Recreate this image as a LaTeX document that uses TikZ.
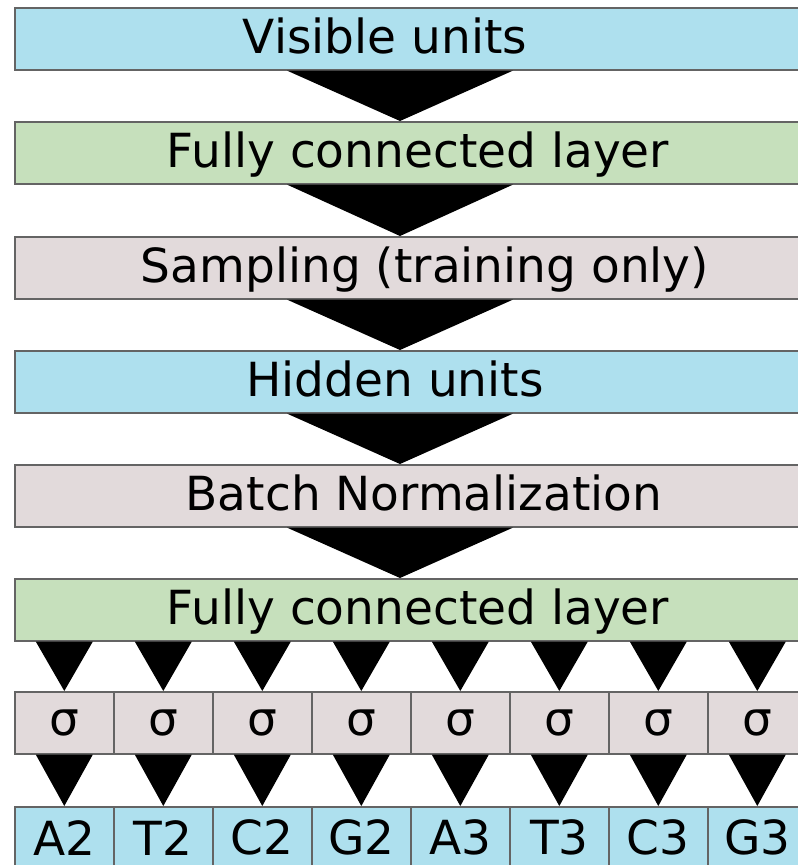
\documentclass[tikz,border=0pt]{standalone}
\usepackage{fontspec}
\setmainfont{DejaVu Sans}
\usetikzlibrary{calc}
\definecolor{unitblue}{RGB}{174, 224, 238}
\definecolor{layergreen}{RGB}{198, 224, 188}
\definecolor{opgray}{RGB}{226, 218, 219}
\definecolor{edgegray}{RGB}{100, 100, 100}

\begin{document}
\begin{tikzpicture}[x=1pt, y=-1pt,
  layerbox/.style={draw=edgegray, line width=1.6pt, minimum width=792pt, minimum height=62pt, inner sep=0pt, anchor=north west},
  cellbox/.style={draw=edgegray, line width=1.6pt, minimum width=99pt, minimum height=62pt, inner sep=0pt, anchor=north west, font=\fontsize{47}{56}\selectfont},
  boxtext/.style={anchor=base, inner sep=0pt, font=\fontsize{47}{56}\selectfont}]
  \clip (0,0) rectangle (798,865);
  \coordinate (mid) at (400,0);

  % Stacked layers
  \node[layerbox, fill=unitblue] (vis) at (14,7) {};
  \node[boxtext] (vistext) at (385,53) {Visible units};
  \node[layerbox, fill=layergreen] (fca) at (14,121) {};
  \node[boxtext] (fcatext) at (418,167) {Fully connected layer};
  \node[layerbox, fill=opgray] (samp) at (14,236) {};
  \node[boxtext] (samptext) at (425,282) {Sampling (training only)};
  \node[layerbox, fill=unitblue] (hid) at (14,350) {};
  \node[boxtext] (hidtext) at (395,396) {Hidden units};
  \node[layerbox, fill=opgray] (bn) at (14,464) {};
  \node[boxtext] (bntext) at (424,510) {Batch Normalization};
  \node[layerbox, fill=layergreen] (fcb) at (14,578) {};
  \node[boxtext] (fcbtext) at (418,624) {Fully connected layer};

  % Big arrows between layers
  \foreach \a/\b in {vis/fca, fca/samp, samp/hid, hid/bn, bn/fcb}
    \fill[black] ($(\a.south -| mid)+(-113,0)$) -- ($(\a.south -| mid)+(113,0)$) -- (\b.north -| mid) -- cycle;

  % Sigmoid cells and outputs
  \foreach \lab [count=\i from 0] in {A2, T2, C2, G2, A3, T3, C3, G3} {
    \node[cellbox, fill=opgray] (sig\i) at ({14+99*\i},691) {σ};
    \node[cellbox, fill=unitblue] (out\i) at ({14+99*\i},806) {\lab};
    \fill[black] ($(fcb.south -| sig\i.north)+(-28.5,0)$) -- ($(fcb.south -| sig\i.north)+(28.5,0)$) -- (sig\i.north) -- cycle;
    \fill[black] ($(sig\i.south)+(-28.5,0)$) -- ($(sig\i.south)+(28.5,0)$) -- (out\i.north) -- cycle;
  }
\end{tikzpicture}
\end{document}
